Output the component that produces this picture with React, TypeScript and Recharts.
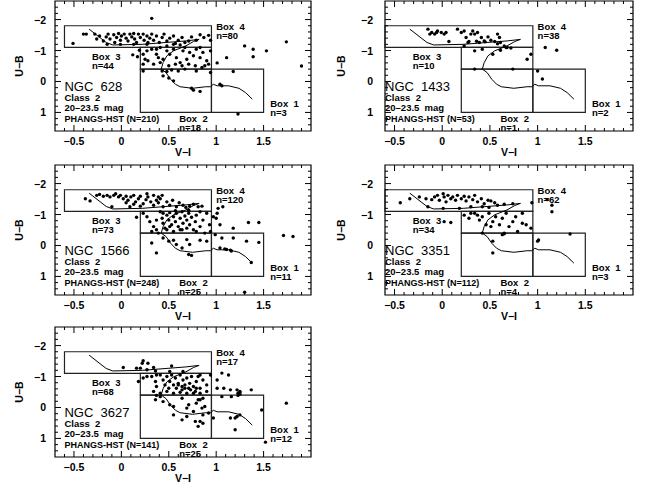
import React from "react";
import { ReferenceArea, Scatter, ScatterChart, XAxis, YAxis } from "recharts";

type Pt = [number, number];

// galaxy names and cluster counts per box
const GALAXIES = ["NGC 628", "NGC 1433", "NGC 1566", "NGC 3351", "NGC 3627"];
const N_TOTAL = [210, 53, 248, 112, 141];
const N_BOX1 = [3, 2, 11, 3, 12];
const N_BOX2 = [18, 1, 25, 4, 25];
const N_BOX3 = [44, 10, 73, 34, 68];
const N_BOX4 = [80, 38, 120, 62, 17];

const X_MAJOR = [-0.5, 0, 0.5, 1, 1.5, 2];
const Y_MAJOR = [-2, -1, 0, 1];

// box outlines: [x1, x2, y1, y2] in (V-I, U-B)
const BOX_RECTS: [number, number, number, number][] = [
  [-0.6, 0.95, -1.8, -1.1],
  [0.2, 0.95, -1.1, -0.4],
  [0.2, 0.95, -0.4, 1.0],
  [0.95, 1.5, -0.4, 1.0],
];

// model track
const TRACK: Pt[] = [
  [-0.34, -1.69], [-0.16, -1.26], [-0.09, -1.18], [0.22, -1.2], [0.47, -1.26], [0.68, -1.31],
  [0.82, -1.36], [0.76, -1.29], [0.68, -1.15], [0.55, -0.99], [0.48, -0.83], [0.44, -0.61],
  [0.42, -0.4], [0.47, -0.29], [0.52, -0.07], [0.57, 0.09], [0.62, 0.17], [0.75, 0.22],
  [0.89, 0.17], [0.94, 0.17], [0.97, 0.09], [1.01, 0.14], [1.13, 0.14], [1.24, 0.22],
  [1.31, 0.36], [1.38, 0.57],
];

const NGC628: Pt[] = [
  [0.32, -2.04], [-0.51, -1.23], [-0.4, -1.53], [-0.37, -1.53], [1.3, -1.15], [1.39, -1.04],
  [1.53, -0.99], [1.74, -1.28], [1.39, -0.8], [1.11, -0.77], [1.01, -0.6], [1.9, -0.5],
  [1.18, -0.32], [1.23, 1.05], [1.04, 0.09], [1.06, 0.14],
  [-0.28, -1.53], [-0.26, -1.37], [-0.23, -1.47], [-0.19, -1.31], [-0.16, -1.44], [-0.14, -1.53],
  [-0.12, -1.37], [-0.08, -1.51], [-0.07, -1.26], [-0.05, -1.42], [-0.03, -1.55], [-0.01, -1.33],
  [0.0, -1.47], [0.03, -1.53], [0.05, -1.4], [0.07, -1.31], [0.09, -1.53], [0.11, -1.44],
  [0.13, -1.55], [0.14, -1.37], [0.16, -1.26], [0.18, -1.53], [0.2, -1.42], [0.23, -1.53],
  [0.24, -1.33], [0.27, -1.47], [0.28, -1.26], [0.3, -1.4], [0.32, -1.53], [0.34, -1.33],
  [0.37, -1.47], [0.4, -1.26], [0.43, -1.42], [0.45, -1.53], [0.48, -1.31], [0.51, -1.4],
  [0.55, -1.47], [0.57, -1.23], [0.6, -1.33], [0.64, -1.42], [0.67, -1.26], [0.71, -1.31],
  [0.74, -1.44], [0.79, -1.33], [0.83, -1.51], [0.87, -1.42], [0.92, -1.49], [0.94, -1.33],
  [-0.15, -1.2], [-0.01, -1.2], [0.13, -1.2], [0.27, -1.2],
  [0.23, -0.88], [0.27, -0.99], [0.32, -1.04], [0.37, -0.88], [0.41, -1.1], [0.44, -0.72],
  [0.48, -0.99], [0.51, -0.88], [0.55, -1.04], [0.58, -0.77], [0.62, -0.61], [0.65, -0.99],
  [0.69, -0.72], [0.72, -0.94], [0.76, -0.83], [0.79, -1.04], [0.83, -0.77], [0.86, -0.94],
  [0.9, -0.67], [0.94, -0.99], [0.28, -0.67], [0.34, -0.56], [0.39, -0.77], [0.5, -0.51],
  [0.57, -0.56], [0.64, -0.51], [0.71, -0.56], [0.78, -0.51], [0.85, -0.45], [0.92, -0.56],
  [0.23, -0.56], [0.55, -1.2], [0.62, -1.18], [0.67, -1.1], [0.48, -1.15], [0.37, -1.04],
  [0.41, -0.61], [0.83, -1.1], [0.88, -0.51], [0.25, -0.72], [0.12, -0.86], [0.17, -0.8],
  [0.19, -1.01],
  [0.23, -0.34], [0.43, -0.34], [0.48, -0.32], [0.53, -0.37], [0.6, -0.34], [0.67, -0.4],
  [0.79, -0.34], [0.94, -0.29], [0.74, 0.22], [0.76, 0.28], [0.83, 0.32], [0.44, -0.18],
  [0.5, -0.11], [0.55, -0.02],
];

const NGC1433: Pt[] = [
  [-0.15, -1.69], [-0.13, -1.53], [-0.11, -1.58], [-0.08, -1.53], [-0.06, -1.58], [-0.05, -1.63],
  [-0.01, -1.58], [0.02, -1.53], [0.04, -1.58], [0.07, -1.29], [0.16, -1.69], [0.2, -1.58],
  [0.23, -1.63], [0.25, -1.42], [0.27, -1.26], [0.3, -1.53], [0.32, -1.63], [0.34, -1.53],
  [0.37, -1.58], [0.39, -1.26], [0.41, -1.42], [0.44, -1.31], [0.48, -1.44], [0.51, -1.33],
  [0.55, -1.29], [0.58, -1.53], [0.6, -1.42], [0.61, -1.26], [0.65, -1.15], [0.68, -1.1],
  [0.28, -1.29], [0.36, -1.3], [0.45, -1.28], [0.58, -1.22],
  [0.23, -1.15], [0.34, -0.99], [0.42, -1.04], [0.53, -0.88], [0.61, -1.01], [0.67, -1.1],
  [0.72, -1.08], [0.89, -0.72], [0.93, -0.88], [1.08, -1.1], [1.2, -1.01],
  [0.34, -0.4], [0.74, -0.4], [1.0, -0.34], [1.05, -0.08],
];

const NGC1566: Pt[] = [
  [-0.38, -1.51], [-0.33, -1.44], [-0.26, -1.62], [-0.23, -1.65], [-0.19, -1.59], [-0.15, -1.62],
  [-0.12, -1.57], [-0.08, -1.62], [-0.06, -1.67], [-0.03, -1.57], [-0.01, -1.62], [0.02, -1.51],
  [0.05, -1.59], [0.07, -1.46], [0.1, -1.57], [0.13, -1.62], [0.15, -1.41], [0.18, -1.51],
  [0.2, -1.59], [0.23, -1.35], [0.26, -1.48], [0.28, -1.57], [0.31, -1.41], [0.34, -1.3],
  [0.37, -1.46], [0.39, -1.38], [0.41, -1.51], [0.44, -1.25], [0.48, -1.41], [0.51, -1.3],
  [0.54, -1.46], [0.58, -1.25], [0.61, -1.38], [0.65, -1.3], [0.68, -1.23], [0.72, -1.27],
  [0.76, -1.33], [0.81, -1.25], [0.85, -1.27], [-0.1, -1.25], [0.09, -1.25], [0.2, -1.27],
  [0.13, -1.33], [0.05, -1.38], [0.27, -1.67], [0.34, -1.62], [0.39, -1.57], [0.43, -1.62],
  [0.23, -1.04], [0.27, -0.93], [0.3, -0.77], [0.34, -0.61], [0.37, -0.51], [0.41, -1.09],
  [0.43, -0.88], [0.44, -0.72], [0.46, -0.56], [0.48, -0.98], [0.5, -0.82], [0.51, -1.06],
  [0.53, -0.67], [0.55, -0.93], [0.57, -0.77], [0.58, -1.04], [0.6, -0.61], [0.62, -0.88],
  [0.64, -1.09], [0.65, -0.72], [0.67, -0.95], [0.69, -0.82], [0.71, -1.04], [0.72, -0.67],
  [0.74, -0.91], [0.76, -0.51], [0.78, -0.77], [0.79, -0.98], [0.83, -0.61], [0.86, -0.82],
  [0.9, -1.04], [0.93, -0.67], [0.94, -0.45], [0.32, -0.45], [0.39, -0.4], [0.48, -0.51],
  [0.55, -0.45], [0.64, -0.51], [0.69, -0.56], [0.79, -0.45], [0.88, -0.4], [0.44, -1.04],
  [0.57, -1.12], [0.71, -1.14], [0.83, -1.09], [0.37, -0.82], [0.51, -0.61], [0.62, -0.51],
  [0.97, -0.93], [1.01, -1.04], [1.02, -1.2], [1.07, -1.25], [1.0, -0.88], [1.04, -0.67],
  [1.18, -0.56], [1.34, -0.74], [1.45, -0.74], [1.81, -0.29], [1.71, -0.32], [0.16, -0.91],
  [0.32, -0.08], [0.37, 0.24], [0.44, -0.24], [0.5, -0.14], [0.58, -0.03], [0.64, 0.08],
  [0.69, -0.19], [0.72, -0.03], [0.83, -0.17], [0.9, -0.14], [0.71, 0.29], [0.74, 0.32],
  [0.55, -0.17],
  [1.04, 0.08], [1.09, 0.11], [1.15, 0.15], [1.18, -0.24], [1.32, -0.14], [1.45, -0.1],
  [1.37, 0.55], [1.11, 0.13], [1.16, 0.18], [0.99, -0.35], [1.06, -0.24], [1.3, 1.51],
];

const NGC3351: Pt[] = [
  [-0.44, -1.38], [-0.34, -1.51], [-0.24, -1.57], [-0.17, -1.51], [-0.11, -1.48], [-0.08, -1.57],
  [-0.05, -1.62], [-0.03, -1.46], [0.01, -1.67], [0.02, -1.57], [0.04, -1.41], [0.06, -1.62],
  [0.09, -1.51], [0.11, -1.57], [0.14, -1.46], [0.16, -1.62], [0.2, -1.51], [0.23, -1.59],
  [0.25, -1.44], [0.28, -1.57], [0.32, -1.48], [0.34, -1.62], [0.37, -1.41], [0.41, -1.51],
  [0.44, -1.35], [0.48, -1.46], [0.51, -1.44], [0.55, -1.38], [0.58, -1.3], [0.65, -1.33],
  [0.74, -1.35], [-0.15, -1.25], [0.01, -1.2], [0.18, -1.2], [0.3, -1.25], [0.42, -1.25],
  [0.49, -1.23], [0.94, -1.38], [1.1, -1.48], [1.15, -1.3], [1.15, -1.09], [0.02, -0.77],
  [0.09, -0.74],
  [0.23, -0.98], [0.28, -0.88], [0.34, -1.04], [0.39, -0.82], [0.42, -0.93], [0.46, -0.67],
  [0.49, -1.04], [0.53, -0.77], [0.56, -0.93], [0.6, -0.67], [0.63, -0.88], [0.67, -1.04],
  [0.7, -0.61], [0.74, -0.77], [0.77, -0.93], [0.84, -1.04], [0.88, -0.67], [0.93, -0.56],
  [0.3, -1.04], [0.37, -0.98], [0.51, -0.61], [0.79, -0.45], [0.65, -0.4], [0.42, -0.4],
  [0.84, -0.72],
  [0.53, -0.14], [0.53, 0.24], [0.63, -0.35], [0.65, -0.38],
  [1.0, -0.14], [1.01, -0.18], [1.34, -0.37],
];

const NGC3627: Pt[] = [
  [0.02, -1.29], [0.16, -1.27], [0.2, -1.27], [0.22, -1.43], [0.23, -1.51], [0.28, -1.43],
  [0.34, -1.29], [0.53, -1.34], [0.27, -1.22], [0.36, -1.18], [0.18, -0.84],
  [0.23, -0.95], [0.27, -1.0], [0.32, -1.0], [0.36, -0.84], [0.37, -0.68], [0.41, -1.05],
  [0.44, -0.89], [0.46, -0.73], [0.48, -1.0], [0.5, -0.62], [0.51, -0.84], [0.53, -1.05],
  [0.55, -0.73], [0.57, -0.95], [0.58, -0.62], [0.6, -0.78], [0.62, -1.05], [0.64, -0.57],
  [0.65, -0.89], [0.67, -0.73], [0.69, -0.95], [0.71, -0.62], [0.72, -0.78], [0.74, -1.0],
  [0.76, -0.68], [0.78, -0.52], [0.79, -0.84], [0.81, -1.0], [0.83, -0.62], [0.86, -0.89],
  [0.9, -0.73], [0.94, -1.05], [0.34, -0.52], [0.41, -0.46], [0.48, -0.52], [0.55, -0.46],
  [0.62, -0.49], [0.69, -0.46], [0.76, -0.46], [0.83, -0.46], [0.9, -0.52], [0.37, -1.05],
  [0.83, -1.05], [0.65, -1.16], [0.51, -1.16], [0.6, -0.73], [0.64, -0.68], [0.67, -0.62],
  [0.73, -0.57], [0.79, -0.62],
  [1.01, -0.89], [1.06, -1.11], [1.13, -1.05], [1.01, -0.62], [1.08, -0.62], [1.15, -0.57],
  [1.22, -0.57], [1.25, -0.52], [1.37, -0.57], [1.23, -0.46], [1.25, -0.49],
  [0.36, -0.25], [0.41, -0.35], [0.44, -0.19], [0.51, -0.09], [0.55, -0.03], [0.64, -0.3],
  [0.69, 0.02], [0.71, -0.09], [0.76, 0.13], [0.79, -0.14], [0.81, -0.25], [0.83, -0.25],
  [0.85, 0.02], [0.88, -0.03], [0.83, 0.45], [0.86, 0.51], [0.78, 0.45], [0.81, 0.61],
  [0.64, 0.4], [0.69, 0.29], [0.86, 0.24], [0.92, 0.18], [0.55, 0.24], [0.86, -0.3],
  [0.37, -0.39],
  [0.97, 0.34], [1.15, 0.34], [1.16, -0.35], [1.2, 0.34], [1.22, 0.29], [1.25, 0.24],
  [1.2, 0.72], [1.48, 0.08], [1.25, -0.43], [1.06, -0.35], [1.23, -0.39],
  [1.52, 1.12], [1.74, -0.14],
];

const PANEL_POINTS = [NGC628, NGC1433, NGC1566, NGC3351, NGC3627];

const FONT = "'Liberation Sans', Arial, sans-serif";
const X_MAX = 2.0;
const Y_MIN = -2.6;
const Y_MAX = 1.6;
const PLOT_H = 130;
const TOP_M = 6;
const RIGHT_M = 14;
const AXIS_W = 60;
const XAXIS_H = 28;

// plot frame position on the page; tickGap / titleGap = distance of y labels from the frame
const LAYOUT = [
  { left: 55, top: 1, xMin: -0.7, width: 256, tickGap: 9, titleGap: 36 },
  { left: 385, top: 1, xMin: -0.6, width: 248, tickGap: 12, titleGap: 44 },
  { left: 55, top: 165, xMin: -0.7, width: 256, tickGap: 9, titleGap: 36 },
  { left: 385, top: 165, xMin: -0.6, width: 248, tickGap: 12, titleGap: 44 },
  { left: 55, top: 327, xMin: -0.7, width: 256, tickGap: 9, titleGap: 36 },
];

const makeTicks = (min: number, max: number, step: number) => {
  const out: number[] = [];
  for (let i = 1; ; i++) {
    const v = Math.round((min + i * step) * 10) / 10;
    if (v >= max - 1e-6) break;
    out.push(v);
  }
  return out;
};

const fmt = (v: number) => (v < 0 ? "\u2212" + String(-v) : String(Math.abs(v)));

const XTick = (props: any) => {
  const { x, y, payload } = props;
  const v = payload.value;
  const major = X_MAJOR.includes(v);
  const len = major ? 6 : 3;
  return (
    <g>
      <line x1={x} x2={x} y1={y} y2={y - len} stroke="#000" />
      <line x1={x} x2={x} y1={y - PLOT_H} y2={y - PLOT_H + len} stroke="#000" />
      {major && (
        <text x={x} y={y + 10} textAnchor="middle" dominantBaseline="central"
          fontFamily={FONT} fontWeight="bold" fontSize={10.5} fill="#000">
          {fmt(v)}
        </text>
      )}
    </g>
  );
};

const YTick = (props: any) => {
  const { x, y, payload, plotW, gap } = props;
  const v = payload.value;
  const major = Y_MAJOR.includes(v);
  const len = major ? 6 : 3;
  return (
    <g>
      <line x1={x} x2={x + len} y1={y} y2={y} stroke="#000" />
      <line x1={x + plotW} x2={x + plotW - len} y1={y} y2={y} stroke="#000" />
      {major && (
        <text x={x - gap} y={y} textAnchor="end" dominantBaseline="central"
          fontFamily={FONT} fontWeight="bold" fontSize={10.5} fill="#000">
          {fmt(v)}
        </text>
      )}
    </g>
  );
};

const TEXT_STYLE: Record<string, { size: number; weight: string }> = {
  box: { size: 9.5, weight: "bold" },
  name: { size: 13, weight: "normal" },
  info: { size: 9.5, weight: "bold" },
  survey: { size: 9, weight: "bold" },
};

const TextMark = (props: any) => {
  const { cx, cy, payload } = props;
  const st = TEXT_STYLE[payload.kind];
  return (
    <text x={cx} y={cy} dominantBaseline="central" fontFamily={FONT}
      fontSize={st.size} fontWeight={st.weight} fill="#000" style={{ whiteSpace: "pre" }}>
      {payload.text}
    </text>
  );
};

const Dot = (props: any) => <circle cx={props.cx} cy={props.cy} r={1.7} fill="#000" />;
const NoDot = () => <g />;

function panelLabels(i: number) {
  const gap = 0.31;
  return [
    { x: 1.0, y: -1.78, text: "Box  4", kind: "box" },
    { x: 1.0, y: -1.78 + gap, text: `n=${N_BOX4[i]}`, kind: "box" },
    { x: -0.31, y: -0.82, text: "Box  3", kind: "box" },
    { x: -0.31, y: -0.82 + gap, text: `n=${N_BOX3[i]}`, kind: "box" },
    { x: 0.61, y: 1.18, text: "Box  2", kind: "box" },
    { x: 0.61, y: 1.18 + gap, text: `n=${N_BOX2[i]}`, kind: "box" },
    { x: 1.57, y: 0.7, text: "Box  1", kind: "box" },
    { x: 1.57, y: 0.7 + gap, text: `n=${N_BOX1[i]}`, kind: "box" },
    { x: -0.6, y: 0.15, text: GALAXIES[i].replace(" ", "  "), kind: "name" },
    { x: -0.6, y: 0.52, text: "Class  2", kind: "info" },
    { x: -0.6, y: 0.85, text: "20\u201323.5  mag", kind: "info" },
    { x: -0.6, y: 1.21, text: `PHANGS-HST (N=${N_TOTAL[i]})`, kind: "survey" },
  ];
}

function Panel({ i }: { i: number }) {
  const L = LAYOUT[i];
  const xTicks = makeTicks(L.xMin, X_MAX, 0.1);
  const yTicks = makeTicks(Y_MIN, Y_MAX, 0.2);
  const points = PANEL_POINTS[i].map(([x, y]) => ({ x, y }));
  const track = TRACK.map(([x, y]) => ({ x, y }));
  return (
    <div style={{ position: "absolute", left: L.left - AXIS_W, top: L.top - TOP_M }}>
      <ScatterChart
        width={AXIS_W + L.width + RIGHT_M}
        height={TOP_M + PLOT_H + XAXIS_H}
        margin={{ top: TOP_M, right: RIGHT_M, bottom: 0, left: 0 }}
      >
        <XAxis
          type="number"
          dataKey="x"
          domain={[L.xMin, X_MAX]}
          ticks={xTicks}
          interval={0}
          allowDataOverflow
          height={XAXIS_H}
          tickSize={0}
          tickMargin={0}
          tickLine={false}
          axisLine={false}
          tick={(p: any) => <XTick x={p.x} y={p.y} payload={p.payload} />}
          label={{
            value: "V\u2212I",
            position: "insideBottom",
            offset: 3,
            style: { fontFamily: FONT, fontWeight: "bold", fontSize: 10.5, fill: "#000" },
          }}
        />
        <YAxis
          type="number"
          dataKey="y"
          domain={[Y_MIN, Y_MAX]}
          reversed
          ticks={yTicks}
          interval={0}
          allowDataOverflow
          width={AXIS_W}
          tickSize={0}
          tickMargin={0}
          tickLine={false}
          axisLine={false}
          tick={(p: any) => <YTick x={p.x} y={p.y} payload={p.payload} plotW={L.width} gap={L.tickGap} />}
          label={{
            content: (lp: any) => {
              const vb = lp.viewBox;
              const cx = vb.x + vb.width - L.titleGap;
              const cy = vb.y + vb.height / 2;
              return (
                <text x={cx} y={cy} transform={`rotate(-90 ${cx} ${cy})`} textAnchor="middle"
                  dominantBaseline="central" fontFamily={FONT} fontWeight="bold" fontSize={10.5} fill="#000">
                  U{"\u2212"}B
                </text>
              );
            },
          }}
        />
        <ReferenceArea x1={L.xMin} x2={X_MAX} y1={Y_MIN} y2={Y_MAX} fill="none" stroke="#000" strokeWidth={1.2} ifOverflow="visible" />
        {BOX_RECTS.map(([x1, x2, y1, y2], k) => (
          <ReferenceArea key={k} x1={x1} x2={x2} y1={y1} y2={y2} fill="none" stroke="#222" strokeWidth={1.2} ifOverflow="visible" />
        ))}
        <Scatter data={track} line={{ stroke: "#000", strokeWidth: 1 }} shape={NoDot} isAnimationActive={false} />
        <Scatter data={points} shape={Dot} isAnimationActive={false} />
        <Scatter data={panelLabels(i)} shape={TextMark} isAnimationActive={false} />
      </ScatterChart>
    </div>
  );
}

export default function App() {
  return (
    <div style={{ position: "absolute", left: 0, top: 0, width: 654, height: 486, background: "#fff", overflow: "hidden" }}>
      {LAYOUT.map((_, i) => (
        <Panel key={i} i={i} />
      ))}
    </div>
  );
}
